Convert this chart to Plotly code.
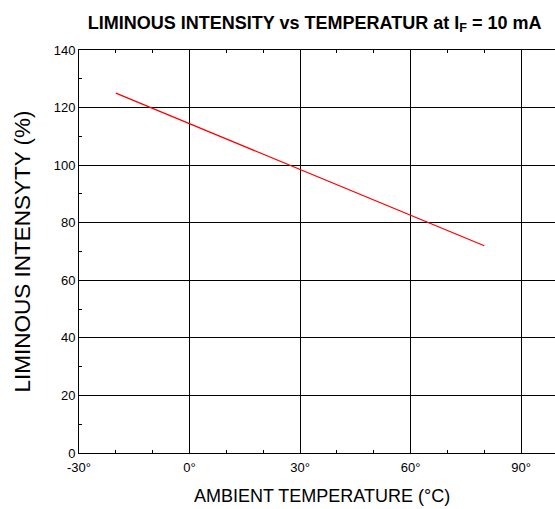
import plotly.graph_objects as go

temp = [-20, 80]
intensity = [125, 72]
x_ticks = [-30, 0, 30, 60, 90]
x_tick_labels = ["-30°", "0°", "30°", "60°", "90°"]
y_ticks = [0, 20, 40, 60, 80, 100, 120, 140]
x_minor = [-20, -10, 10, 20, 40, 50, 70, 80]
y_minor = [10, 30, 50, 70, 90, 110, 130]

fig = go.Figure()
fig.add_trace(go.Scatter(x=temp, y=intensity, mode="lines",
                         line=dict(color="#ff0000", width=1.3), showlegend=False))
# invisible companion trace so the top axis (for its minor ticks) is drawn
fig.add_trace(go.Scatter(x=temp, y=intensity, xaxis="x2", mode="lines", opacity=0,
                         line=dict(width=0), hoverinfo="skip", showlegend=False))

font = "Liberation Sans, Arial, sans-serif"
fig.update_layout(
    width=555, height=509,
    margin=dict(l=79, r=0, t=50, b=56, autoexpand=False),
    paper_bgcolor="white", plot_bgcolor="white",
    font=dict(family=font, color="black", size=13),
    title=dict(text="<b>LIMINOUS INTENSITY vs TEMPERATUR at I<sub>F</sub> = 10 mA</b>",
               x=0.567, xanchor="center", y=0.956, yanchor="middle",
               font=dict(size=18, family=font, color="black")),
    xaxis2=dict(overlaying="x", side="top", range=[-30, 99.2], automargin=False,
                showgrid=False, zeroline=False, showticklabels=False,
                showline=True, linecolor="black", linewidth=1,
                tickvals=x_ticks, ticks="",
                minor=dict(tickvals=x_minor, ticks="inside", ticklen=3,
                           tickcolor="black", showgrid=False)),
)
fig.update_xaxes(
    selector=dict(anchor="y"),
    range=[-30, 99.2], tickvals=x_ticks, ticktext=x_tick_labels, automargin=False,
    showgrid=True, gridcolor="black", gridwidth=1,
    showline=True, linecolor="black", linewidth=1, mirror=False,
    zeroline=False, ticks="", tickfont=dict(size=13), ticklabelstandoff=2,
    minor=dict(tickvals=x_minor, ticks="inside",
               ticklen=3, tickcolor="black", showgrid=False),
)
fig.update_layout(xaxis=dict(range=[-30, 99.2], tickvals=x_ticks, ticktext=x_tick_labels,
                             automargin=False, showgrid=True, gridcolor="black", gridwidth=1,
                             showline=True, linecolor="black", linewidth=1,
                             zeroline=False, ticks="", tickfont=dict(size=13),
                             ticklabelstandoff=2,
                             minor=dict(tickvals=x_minor, ticks="inside", ticklen=3,
                                        tickcolor="black", showgrid=False)))
fig.update_yaxes(
    range=[0, 140], tickvals=y_ticks, automargin=False,
    showgrid=True, gridcolor="black", gridwidth=1,
    showline=True, linecolor="black", linewidth=1,
    zeroline=False, ticks="", tickfont=dict(size=13),
    minor=dict(tickvals=y_minor, ticks="inside",
               ticklen=3, tickcolor="black", showgrid=False),
)
fig.add_annotation(text="AMBIENT TEMPERATURE (°C)", xref="paper", yref="paper",
                   x=0.5105, y=-0.107, xanchor="center", yanchor="middle",
                   showarrow=False, font=dict(size=18, family=font, color="black"))
fig.add_annotation(text="LIMINOUS INTENSYTY (%)", xref="paper", yref="paper",
                   x=-0.1197, y=0.5, xanchor="center", yanchor="middle", textangle=-90,
                   showarrow=False, font=dict(size=22.5, family=font, color="black"))
fig.write_html("out.html", config={"displayModeBar": False},
               post_script="document.body.style.margin='0';")
